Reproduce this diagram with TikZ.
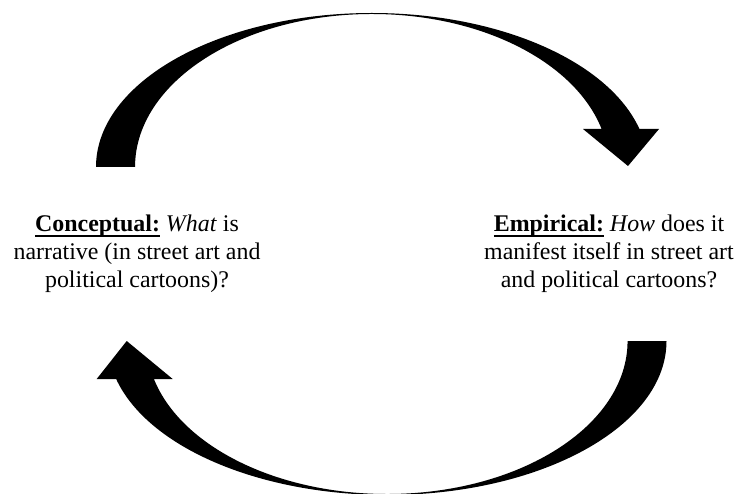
\documentclass[tikz,border=0pt]{standalone}
\usepackage{fontspec}
\setmainfont{Liberation Serif}
\newcommand{\myul}[1]{\setbox0\hbox{#1}\rlap{\rule[-5.3pt]{\wd0}{2.1pt}}\box0\relax}
\tikzset{
  cyclearrow/.style={fill=black, draw=none},
  question/.style={align=center, inner sep=0pt, anchor=base,
    font=\fontsize{23.9}{27.8}\selectfont}
}
\begin{document}
\begin{tikzpicture}[x=1pt,y=1pt]
\useasboundingbox (0,0) rectangle (738,493);
\clip (0,0) rectangle (738,493);
% top arrow (left -> right)
\fill[cyclearrow] (96,326)
  arc[start angle=180, end angle=90, x radius=276pt, y radius=154pt]
  arc[start angle=90, end angle=14.29, x radius=276pt, y radius=154pt]
  -- (659,364) -- (628,327) -- (583,364) -- (601.6,364)
  arc[start angle=14.38, end angle=90, x radius=237pt, y radius=153pt]
  arc[start angle=90, end angle=180, x radius=237pt, y radius=153pt]
  -- cycle;
% bottom arrow (right -> left)
\fill[cyclearrow] (666.5,152)
  arc[start angle=0, end angle=-90, x radius=279.5pt, y radius=154pt]
  arc[start angle=-90, end angle=-165.71, x radius=279.5pt, y radius=154pt]
  -- (96.7,114) -- (126.7,152) -- (172.7,114) -- (153.9,114)
  arc[start angle=-165.62, end angle=-90, x radius=240.6pt, y radius=153pt]
  arc[start angle=-90, end angle=0, x radius=240.6pt, y radius=153pt]
  -- cycle;
\node[question] (concept) at (137,206)
  {\myul{\textbf{Conceptual:}} \textit{What} is\\
   narrative (in street art and\\
   political cartoons)?};
\node[question] (empiric) at (609,206)
  {\myul{\textbf{Empirical:}} \textit{How} does it\\
   manifest itself in street art\\
   and political cartoons?};
\end{tikzpicture}
\end{document}
